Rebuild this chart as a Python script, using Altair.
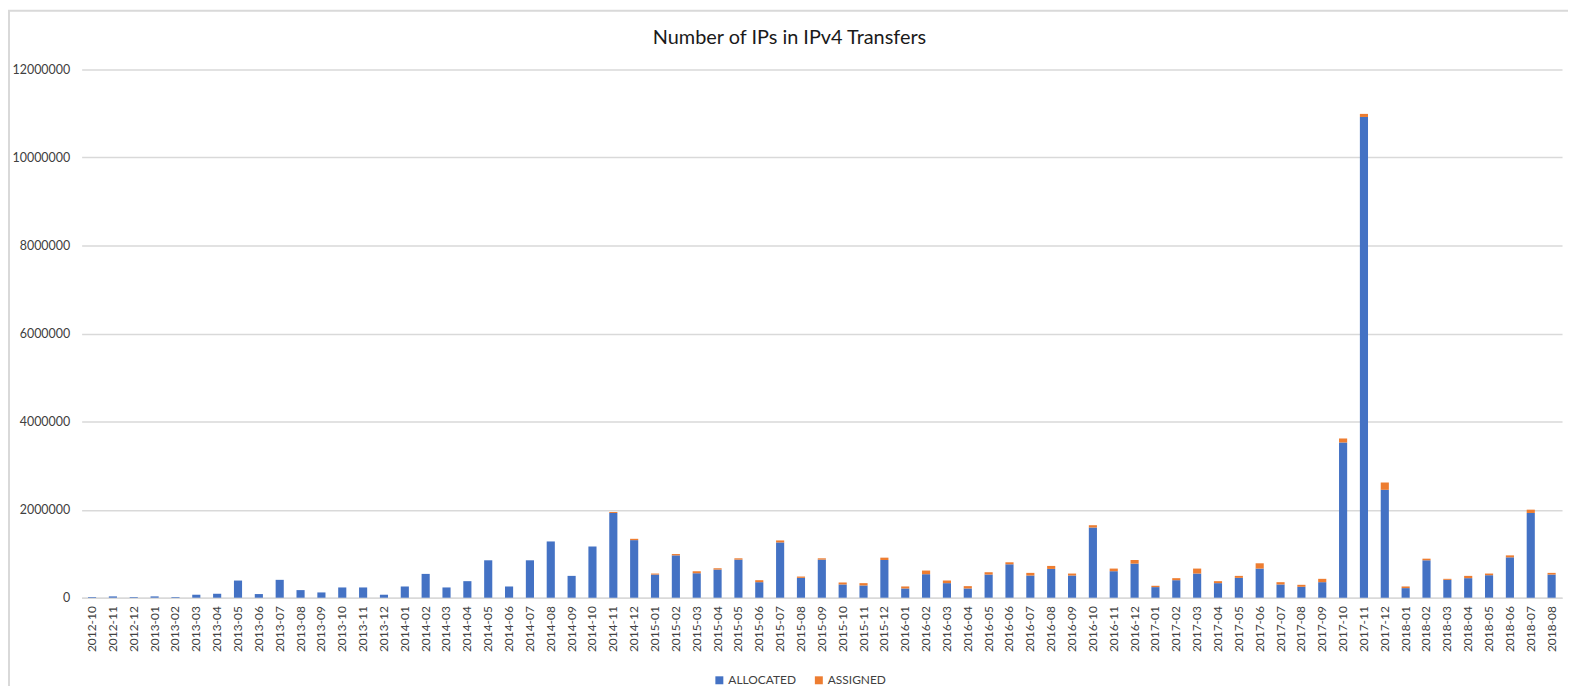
import altair as alt
import pandas as pd

months = [f"{y}-{m:02d}" for y, m in
          [(2012, m) for m in range(10, 13)] +
          [(y, m) for y in range(2013, 2018) for m in range(1, 13)] +
          [(2018, m) for m in range(1, 9)]]

allocated = [
    15000, 30000, 15000,
    30000, 15000, 68000, 90000, 390000, 83000, 406000, 173000, 120000, 233000, 233000, 68000,
    255000, 541000, 233000, 376000, 850000, 255000, 850000, 1278000, 496000, 1165000, 1925000, 1308000,
    526000, 962000, 556000, 639000, 865000, 353000, 1256000, 451000, 865000, 301000, 278000, 857000,
    210000, 534000, 331000, 210000, 526000, 759000, 504000, 654000, 504000, 1594000, 602000, 774000,
    241000, 398000, 549000, 331000, 451000, 662000, 301000, 248000, 353000, 3526000, 10920000, 2451000,
    218000, 850000, 406000, 444000, 511000, 917000, 1925000, 526000,
]
assigned = [
    0, 0, 0,
    0, 0, 0, 0, 0, 0, 0, 0, 0, 0, 0, 0,
    0, 0, 0, 0, 0, 0, 0, 0, 0, 0, 22000, 30000,
    23000, 30000, 45000, 30000, 30000, 45000, 45000, 30000, 30000, 45000, 53000, 53000,
    46000, 83000, 60000, 53000, 53000, 46000, 60000, 68000, 45000, 53000, 60000, 83000,
    30000, 46000, 113000, 45000, 45000, 120000, 52000, 45000, 76000, 91000, 70000, 166000,
    38000, 37000, 23000, 52000, 38000, 45000, 75000, 38000,
]
series = ["ALLOCATED", "ASSIGNED"]
colors = ["#4472C4", "#ED7D31"]
y_ticks = [0, 2000000, 4000000, 6000000, 8000000, 10000000, 12000000]
title_text = "Number of IPs in IPv4 Transfers"

rows = []
for mo, a, s in zip(months, allocated, assigned):
    rows.append({"month": mo, "type": series[0], "value": a, "ord": 0})
    rows.append({"month": mo, "type": series[1], "value": s, "ord": 1})
df = pd.DataFrame(rows)

W, H = 1488, 531
FONT = "Lato"

bars = alt.Chart(df).mark_bar().encode(
    x=alt.X("month:N", sort=months, title=None,
            scale=alt.Scale(paddingInner=0.61, paddingOuter=0.305),
            axis=alt.Axis(labelAngle=-90, labelFontSize=12, labelColor="#404040",
                          labelPadding=8, ticks=False, domainColor="#D9D9D9",
                          domainWidth=1.5, labelFont=FONT)),
    y=alt.Y("value:Q", stack="zero", title=None,
            scale=alt.Scale(domain=[0, 12000000], nice=False),
            axis=alt.Axis(values=y_ticks, format="d", labelFontSize=12.5, labelColor="#404040",
                          labelPadding=12, ticks=False, domain=False, gridColor="#D9D9D9",
                          gridWidth=1.5, labelFont=FONT)),
    color=alt.Color("type:N", sort=series,
                    scale=alt.Scale(domain=series, range=colors),
                    legend=alt.Legend(title=None, orient="none", direction="horizontal",
                                      legendX=635, legendY=608, symbolType="square",
                                      symbolSize=64, symbolStrokeWidth=0, labelFontSize=12,
                                      labelFont=FONT, labelColor="#404040", columnPadding=16,
                                      labelOffset=3)),
    order=alt.Order("ord:Q", sort="ascending"),
)

frame = alt.Chart(pd.DataFrame({"f": [0]})).mark_rect(
    fillOpacity=0, stroke="#D9D9D9", strokeWidth=2
).encode(
    x=alt.value(-73), x2=alt.value(3000), y=alt.value(-59), y2=alt.value(3000)
)

title = alt.Chart(pd.DataFrame({"t": [title_text]})).mark_text(
    font=FONT, fontSize=20, color="#1a1a1a", align="center", baseline="middle"
).encode(
    text="t:N", x=alt.value(711.5), y=alt.value(-32)
)

chart = alt.layer(bars, frame, title).properties(
    width=W, height=H,
    autosize=alt.AutoSizeParams(type="none"),
    padding={"left": 74, "top": 60, "right": 6, "bottom": 87},
).configure_view(stroke=None)

chart.save("out.html", embed_options={"renderer": "svg", "actions": False})
